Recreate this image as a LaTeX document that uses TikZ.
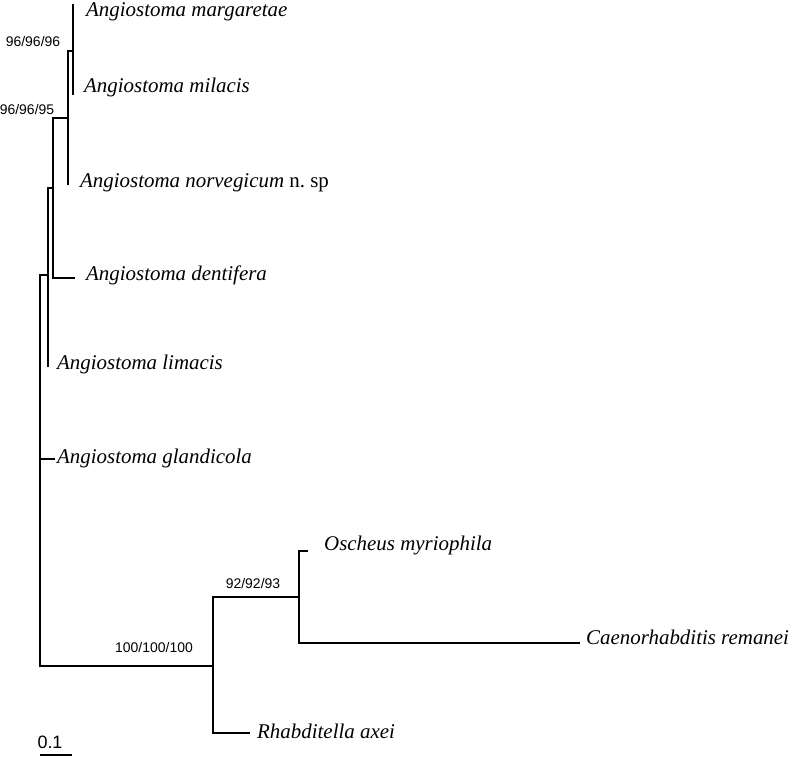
\documentclass[tikz,border=0pt]{standalone}
\usepackage{fontspec}
\setmainfont{Liberation Serif}
\newfontfamily\bootfont{Liberation Sans}

\begin{document}
\begin{tikzpicture}[x=1bp, y=-1bp,
  branch/.style={line width=1.3bp},
  taxon/.style={anchor=base west, inner sep=0pt, font=\fontsize{21}{22}\selectfont\itshape},
  boot/.style={inner sep=0pt, font=\bootfont\fontsize{14}{14}\selectfont}]
\useasboundingbox (0,0) rectangle (796,757);

% internal nodes
\coordinate (nA) at (73,51);
\coordinate (nB) at (68,118);
\coordinate (nC) at (53,188);
\coordinate (nD) at (48,275);
\coordinate (nE) at (40,459);
\coordinate (nF) at (213,666);
\coordinate (nG) at (299,597);
% tips
\coordinate (tMar) at (73,4);
\coordinate (tMil) at (73,95);
\coordinate (tNor) at (68,185);
\coordinate (tDen) at (75,278);
\coordinate (tLim) at (48,367);
\coordinate (tGla) at (55,459);
\coordinate (tOsc) at (308,551);
\coordinate (tCae) at (580,643);
\coordinate (tRha) at (250,733);

\foreach \c/\p in {tMar/nA,tMil/nA,nA/nB,tNor/nB,nB/nC,tDen/nC,nC/nD,tLim/nD,
                   nD/nE,tGla/nE,nF/nE,nG/nF,tRha/nF,tOsc/nG,tCae/nG}
  \draw[branch] (\c) -| (\p);

\node[taxon] (Mar) at (86,17) {Angiostoma margaretae};
\node[taxon] (Mil) at (84,92) {Angiostoma milacis};
\node[taxon] (Nor) at (80,187) {Angiostoma norvegicum \upshape n.\ sp};
\node[taxon] (Den) at (86,280) {Angiostoma dentifera};
\node[taxon] (Lim) at (57,369) {Angiostoma limacis};
\node[taxon] (Gla) at (57,463) {Angiostoma glandicola};
\node[taxon] (Osc) at (324,550) {Oscheus myriophila};
\node[taxon] (Cae) at (586,644) {Caenorhabditis remanei};
\node[taxon] (Rha) at (257,738) {Rhabditella axei};

\node[boot] (bA) at (33,42) {96/96/96};
\node[boot] (bB) at (27,110) {96/96/95};
\node[boot] (bG) at (253,584) {92/92/93};
\node[boot] (bF) at (154,648) {100/100/100};

% scale bar
\coordinate (sL) at (40,755);
\coordinate (sR) at (72,755);
\draw[branch] (sL) -- (sR);
\node[inner sep=0pt, font=\bootfont\fontsize{18}{18}\selectfont] (scale) at (50,742) {0.1};
\end{tikzpicture}
\end{document}
